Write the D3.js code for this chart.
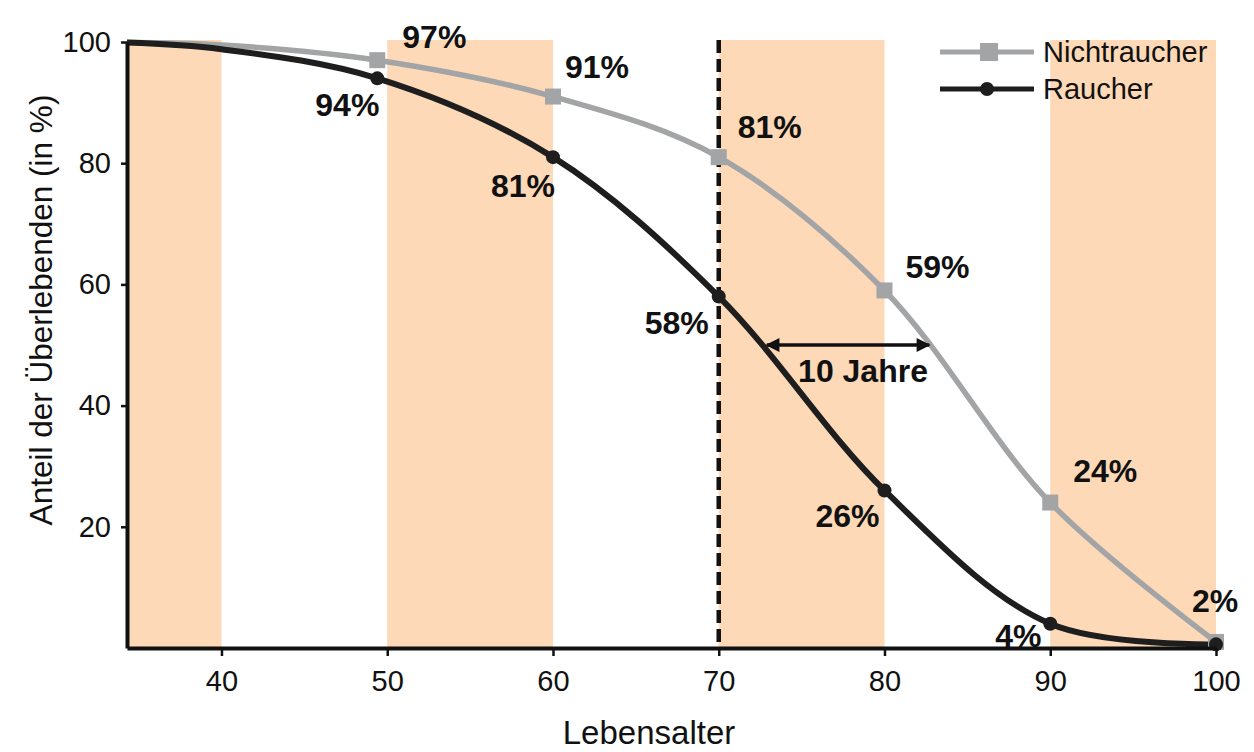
<!DOCTYPE html>
<html lang="de">
<head>
<meta charset="utf-8" />
<title>Überlebende Raucher / Nichtraucher</title>
<style>
    body { margin: 0; background: #fff; }
    svg { font-family: "Liberation Sans", Arial, sans-serif; }
    .axis text { font-size: 29px; fill: #111; }
    .axis path, .axis line { stroke: #111; }
    .pct { font-size: 32px; font-weight: bold; fill: #111; }
</style>
</head>
<body>
<div id="chart"></div>
<script src="https://cdn.jsdelivr.net/npm/d3@7"></script>
<script>
    // Lebensalter / Anteil der Überlebenden (in %)
    var nichtAge   = [34.3, 40, 49.4, 60, 70, 80, 90, 100];
    var nichtValue = [99.9, 99.5, 97, 91, 81, 59, 24, 1];
    var rauchAge   = [34.3, 40, 49.4, 60, 70, 80, 90, 100];
    var rauchValue = [99.9, 98.8, 94, 81, 58, 26, 4, 0.6];
    // which points get a marker + label
    var markIdx = [2, 3, 4, 5, 6, 7];
    var nichtLabels = ["97%", "91%", "81%", "59%", "24%", "2%"];
    var rauchLabels = ["94%", "81%", "58%", "26%", "4%", ""];
    var bands = [[34.3, 40], [50, 60], [70, 80], [90, 100]];
    var xTicks = [40, 50, 60, 70, 80, 90, 100];
    var yTicks = [20, 40, 60, 80, 100];
    var arrow = { from: 72.9, to: 82.7, value: 50, text: "10 Jahre" };

    var W = 1254, H = 752;
    var margin = { top: 42, right: 38, bottom: 104, left: 127 };

    var x = d3.scaleLinear().domain([34.3, 100]).range([0, 1216 - margin.left]);
    var y = d3.scaleLinear().domain([0, 100]).range([606, 0]);

    var svg = d3.select("#chart").append("svg")
        .attr("width", W).attr("height", H)
        .append("g")
        .attr("transform", "translate(" + margin.left + "," + margin.top + ")");

    // orange bands
    svg.selectAll(".band").data(bands).enter().append("rect")
        .attr("class", "band")
        .attr("x", function (d) { return x(d[0]); })
        .attr("width", function (d) { return x(d[1]) - x(d[0]); })
        .attr("y", y(100) - 2)
        .attr("height", y(0) - y(100) + 2)
        .style("fill", "#fdd9b7");

    // dashed line at 70
    svg.append("line")
        .attr("x1", x(70)).attr("x2", x(70))
        .attr("y1", y(100) - 2).attr("y2", y(0))
        .style("stroke", "#111").style("stroke-width", 4.5)
        .style("stroke-dasharray", "13,6");

    var line = d3.line().curve(d3.curveCatmullRom.alpha(0.5))
        .x(function (d) { return x(d[0]); })
        .y(function (d) { return y(d[1]); });

    var nicht = nichtAge.map(function (a, i) { return [a, nichtValue[i]]; });
    var rauch = rauchAge.map(function (a, i) { return [a, rauchValue[i]]; });

    svg.append("path").datum(nicht).attr("d", line)
        .style("fill", "none").style("stroke", "#a2a4a6").style("stroke-width", 5.5);
    svg.append("path").datum(rauch).attr("d", line)
        .style("fill", "none").style("stroke", "#1e1e1e").style("stroke-width", 6);

    var nichtPts = markIdx.map(function (i) { return nicht[i]; });
    var rauchPts = markIdx.map(function (i) { return rauch[i]; });

    svg.selectAll(".sq").data(nichtPts).enter().append("rect")
        .attr("x", function (d) { return x(d[0]) - 8; })
        .attr("y", function (d) { return y(d[1]) - 8; })
        .attr("width", 16).attr("height", 16)
        .style("fill", "#a2a4a6");
    svg.selectAll(".dot").data(rauchPts).enter().append("circle")
        .attr("cx", function (d) { return x(d[0]); })
        .attr("cy", function (d) { return y(d[1]); })
        .attr("r", 7)
        .style("fill", "#1e1e1e");

    // percentage labels
    var nichtOff = [[25, -23], [12, -30], [19, -30], [21, -24], [23, -32], [-24, -41]];
    var rauchOff = [[-62, 26], [-62, 29], [-74, 26], [-69, 25], [-55, 12], [0, 0]];
    svg.selectAll(".pn").data(nichtPts).enter().append("text")
        .attr("class", "pct")
        .attr("x", function (d, i) { return x(d[0]) + nichtOff[i][0]; })
        .attr("y", function (d, i) { return y(d[1]) + nichtOff[i][1]; })
        .attr("dy", "0.35em")
        .text(function (d, i) { return nichtLabels[i]; });
    svg.selectAll(".pr").data(rauchPts).enter().append("text")
        .attr("class", "pct")
        .attr("x", function (d, i) { return x(d[0]) + rauchOff[i][0]; })
        .attr("y", function (d, i) { return y(d[1]) + rauchOff[i][1]; })
        .attr("dy", "0.35em")
        .text(function (d, i) { return rauchLabels[i]; });

    // 10 Jahre arrow
    var defs = svg.append("defs");
    defs.append("marker").attr("id", "ah").attr("viewBox", "0 0 10 10")
        .attr("refX", 9).attr("refY", 5)
        .attr("markerWidth", 5).attr("markerHeight", 4)
        .attr("orient", "auto-start-reverse")
        .attr("markerUnits", "strokeWidth")
        .append("path").attr("d", "M0,0 L10,5 L0,10 z").style("fill", "#111");
    svg.append("line")
        .attr("x1", x(arrow.from)).attr("x2", x(arrow.to))
        .attr("y1", y(arrow.value)).attr("y2", y(arrow.value))
        .style("stroke", "#111").style("stroke-width", 3.5)
        .attr("marker-start", "url(#ah)").attr("marker-end", "url(#ah)");
    svg.append("text").attr("class", "pct")
        .attr("x", (x(arrow.from) + x(arrow.to)) / 2 + 15)
        .attr("y", y(arrow.value) + 26)
        .attr("dy", "0.35em")
        .style("text-anchor", "middle")
        .text(arrow.text);

    // axes
    svg.append("g").attr("class", "x axis")
        .attr("transform", "translate(0," + y(0) + ")")
        .call(d3.axisBottom(x).tickValues(xTicks).tickSize(8).tickPadding(14).tickSizeOuter(0))
        .call(function (g) { g.select(".domain").style("stroke-width", 4); g.selectAll(".tick line").style("stroke-width", 2.5); });
    svg.append("g").attr("class", "y axis")
        .call(d3.axisLeft(y).tickValues(yTicks).tickSize(6).tickPadding(10).tickSizeOuter(0))
        .call(function (g) { g.select(".domain").style("stroke-width", 4); g.selectAll(".tick line").style("stroke-width", 2.5); });
    svg.selectAll(".axis text").style("font-family", "'Liberation Sans', Arial, sans-serif");

    svg.append("text")
        .attr("x", 649 - margin.left).attr("y", 744 - margin.top)
        .style("text-anchor", "middle").style("font-size", "33px").style("fill", "#111")
        .text("Lebensalter");
    svg.append("text")
        .attr("transform", "translate(" + (52 - margin.left) + "," + (310 - margin.top) + ") rotate(-90)")
        .style("text-anchor", "middle").style("font-size", "31.5px").style("fill", "#111")
        .text("Anteil der Überlebenden (in %)");

    // legend
    var leg = svg.append("g").attr("transform", "translate(" + (940 - margin.left) + "," + (52 - margin.top) + ")");
    leg.append("line").attr("x1", 0).attr("x2", 94).attr("y1", 0).attr("y2", 0)
        .style("stroke", "#a2a4a6").style("stroke-width", 5);
    leg.append("rect").attr("x", 40).attr("y", -9).attr("width", 18).attr("height", 18).style("fill", "#a2a4a6");
    leg.append("text").attr("x", 103).attr("y", 0).attr("dy", "0.35em")
        .style("font-size", "29px").style("fill", "#111").text("Nichtraucher");
    leg.append("line").attr("x1", 0).attr("x2", 94).attr("y1", 37).attr("y2", 37)
        .style("stroke", "#1e1e1e").style("stroke-width", 5);
    leg.append("circle").attr("cx", 47).attr("cy", 37).attr("r", 7).style("fill", "#1e1e1e");
    leg.append("text").attr("x", 103).attr("y", 37).attr("dy", "0.35em")
        .style("font-size", "29px").style("fill", "#111").text("Raucher");
</script>
</body>
</html>
